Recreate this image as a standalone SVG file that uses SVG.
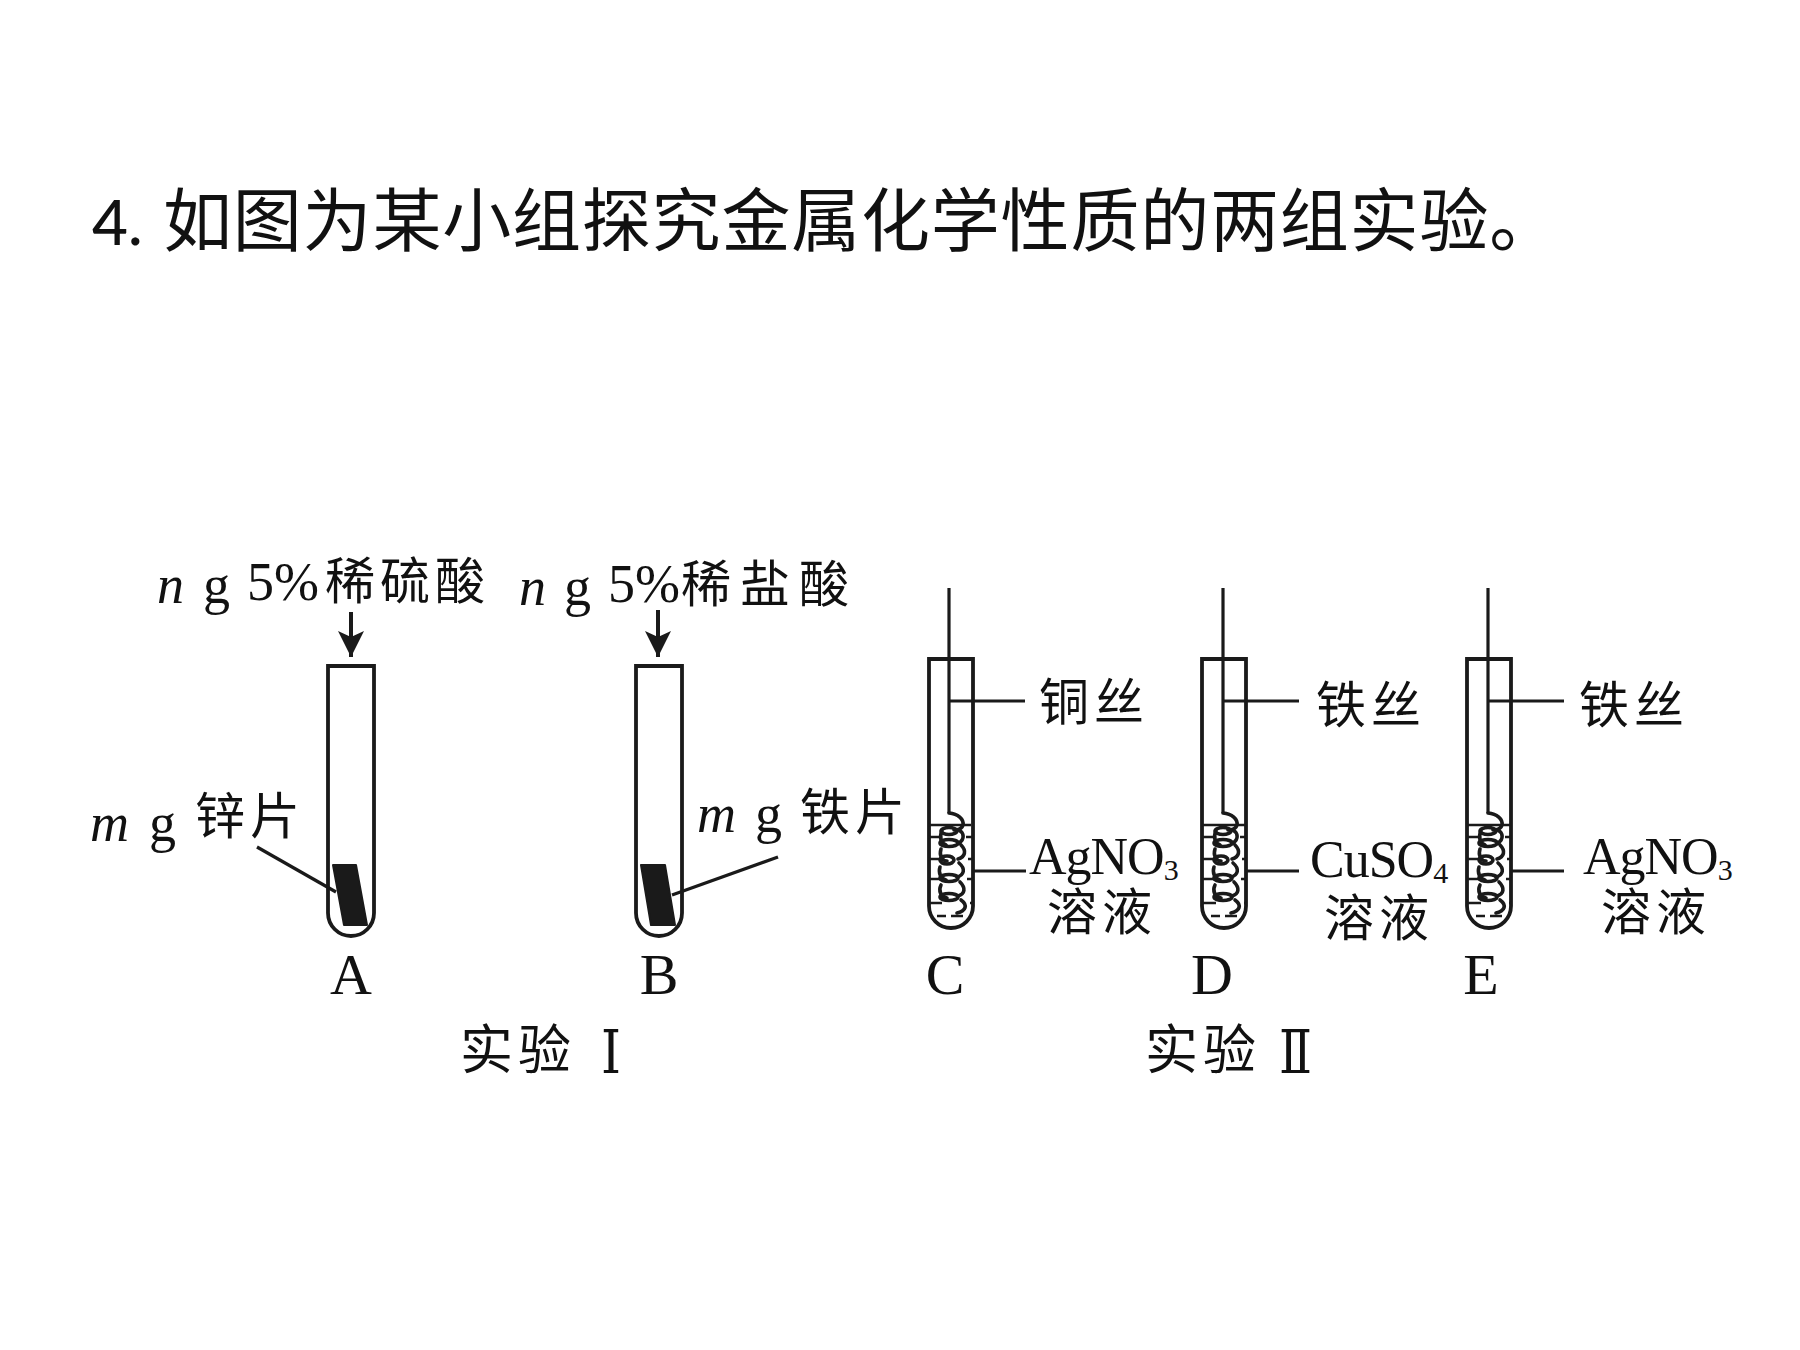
<svg xmlns="http://www.w3.org/2000/svg" xmlns:xlink="http://www.w3.org/1999/xlink" width="1800" height="1350" viewBox="0 0 1800 1350">
<style>
text{fill:#111}
.title{font-family:"Noto Sans CJK SC",sans-serif;font-size:69px;letter-spacing:.8px}
.num{font-family:Lato,"Noto Sans",sans-serif;font-size:62px;font-weight:500}
.cjk{font-family:"Noto Sans CJK SC",sans-serif;font-size:50px;letter-spacing:5px}
.cap{font-family:"Noto Sans CJK SC",sans-serif;font-size:53px;letter-spacing:5px}
.ser{font-family:"Liberation Serif",serif;font-size:54px}
.it{font-family:"Liberation Serif",serif;font-size:54px;font-style:italic}
.let{font-family:"Liberation Serif",serif;font-size:58px;text-anchor:middle}
.chem{font-family:"Liberation Serif",serif;font-size:52px;letter-spacing:-1px}
.sub{font-size:30px}
.rom{font-family:"DejaVu Serif",serif;font-size:60px}
.tube{fill:none;stroke:#1a1a1a;stroke-width:3.8}
.line{fill:none;stroke:#1a1a1a;stroke-width:3.2}
.arrow{fill:none;stroke:#1a1a1a;stroke-width:4}
.coil{fill:none;stroke:#1a1a1a;stroke-width:3.6;stroke-linecap:round}
.dash{fill:none;stroke:#1a1a1a;stroke-width:2.6}
.strip{fill:#1a1a1a;stroke:#1a1a1a;stroke-width:2;stroke-linejoin:round}
</style>
<defs>
<marker id="ah" markerUnits="userSpaceOnUse" markerWidth="28" markerHeight="26" refX="26" refY="13" orient="auto">
<path d="M0,0 L26,13 L0,26 L6,13 Z" fill="#1a1a1a"/>
</marker>
<path id="tubeBig" d="M-23,0 H23 V247 A23,23 0 0 1 -23,247 Z"/>
<path id="tubeWire" d="M-22,0 H22 V247 A22,22 0 0 1 -22,247 Z"/>
<g id="coilSet">
<path class="coil" d="M0,0 C9,1 15,6 14,12 C13,16 8,17 5,17 M10,17 C15,20 16,26 10,30 M-7,18 C-10,24 -8,30 -3,32 M12,32 C18,38 16,44 9,46 M-8,36 C-10,42 -7,48 -2,48 M10,50 C17,56 15,62 8,64 M-9,54 C-11,60 -8,66 -3,67 M11,69 C17,75 16,81 9,83 M-8,72 C-11,78 -8,84 -2,85 M12,87 C19,92 17,98 8,100"/>
<g class="coil">
<ellipse cx="0" cy="18" rx="8" ry="3.5"/><ellipse cx="0" cy="30" rx="9" ry="3.5"/><ellipse cx="-2" cy="47" rx="7" ry="4"/><ellipse cx="0" cy="65" rx="9" ry="3.5"/><ellipse cx="0" cy="84" rx="9" ry="3.5"/>
</g>
<path class="dash" d="M-21,12 H22 M-21,24 H-9 M17,24 H24 M-21,46 H-7 M19,46 H24 M-21,66 H-9 M18,66 H24 M-21,90 H-7 M21,90 H24 M-12,103 H-3 M2,103 H14"/>
</g>
</defs>
<rect width="1800" height="1350" fill="#fff"/>

<g id="title">
<text class="num" x="92" y="245">4.</text>
<text class="title" x="163" y="246">如图为某小组探究金属化学性质的两组实验。</text>
</g>

<g id="connectors">
<line class="arrow" x1="351" y1="612" x2="351" y2="657" marker-end="url(#ah)"/>
<line class="arrow" x1="658" y1="610" x2="658" y2="657" marker-end="url(#ah)"/>
<line class="line" x1="257" y1="847" x2="336" y2="892"/>
<line class="line" x1="778" y1="857" x2="672" y2="895"/>
<path class="line" d="M949,701 H1025 M972,871 H1026"/>
<path class="line" d="M1223,701 H1299 M1246,871 H1299"/>
<path class="line" d="M1488,701 H1564 M1511,871 H1564"/>
</g>

<g id="tube-A">
<use href="#tubeBig" class="tube" x="351" y="666"/>
<polygon class="strip" points="333,865 356,865 367,925 344,925"/>
<text class="let" x="351" y="994">A</text>
<text class="it" x="157" y="603">n</text><text class="ser" x="203" y="603">g</text><text class="ser" x="247" y="600">5%</text>
<text class="cjk" x="325" y="599">稀硫酸</text>
<text class="it" x="90" y="841">m</text><text class="ser" x="149" y="841">g</text>
<text class="cjk" x="195" y="834">锌片</text>
</g>

<g id="tube-B">
<use href="#tubeBig" class="tube" x="659" y="666"/>
<polygon class="strip" points="641,865 665,865 675,925 651,925"/>
<text class="let" x="659" y="994">B</text>
<text class="it" x="519" y="605">n</text><text class="ser" x="564" y="605">g</text><text class="ser" x="608" y="602">5%</text>
<text class="cjk" x="681" y="602" style="letter-spacing:9px">稀盐酸</text>
<text class="it" x="697" y="832">m</text><text class="ser" x="755" y="832">g</text>
<text class="cjk" x="800" y="830">铁片</text>
</g>

<g id="tube-C">
<use href="#tubeWire" class="tube" x="951" y="659"/>
<path class="line" d="M949,588 V813"/>
<use href="#coilSet" x="949" y="813"/>
<text class="let" x="945" y="994">C</text>
<text class="cjk" x="1039" y="720">铜丝</text>
<text class="chem" x="1029" y="874">AgNO<tspan class="sub" dy="6">3</tspan></text>
<text class="cjk" x="1047" y="930">溶液</text>
</g>

<g id="tube-D">
<use href="#tubeWire" class="tube" x="1224" y="659"/>
<path class="line" d="M1223,588 V813"/>
<use href="#coilSet" x="1223" y="813"/>
<text class="let" x="1212" y="994">D</text>
<text class="cjk" x="1316" y="723">铁丝</text>
<text class="chem" x="1310" y="877">CuSO<tspan class="sub" dy="6">4</tspan></text>
<text class="cjk" x="1324" y="936">溶液</text>
</g>

<g id="tube-E">
<use href="#tubeWire" class="tube" x="1489" y="659"/>
<path class="line" d="M1488,588 V813"/>
<use href="#coilSet" x="1488" y="813"/>
<text class="let" x="1481" y="994">E</text>
<text class="cjk" x="1579" y="723">铁丝</text>
<text class="chem" x="1583" y="874">AgNO<tspan class="sub" dy="6">3</tspan></text>
<text class="cjk" x="1601" y="930">溶液</text>
</g>

<g id="captions">
<text class="cap" x="460" y="1069">实验</text><text class="rom" x="601" y="1073" textLength="20" lengthAdjust="spacingAndGlyphs">Ⅰ</text>
<text class="cap" x="1145" y="1069">实验</text><text class="rom" x="1279" y="1073" textLength="33" lengthAdjust="spacingAndGlyphs">Ⅱ</text>
</g>
</svg>
